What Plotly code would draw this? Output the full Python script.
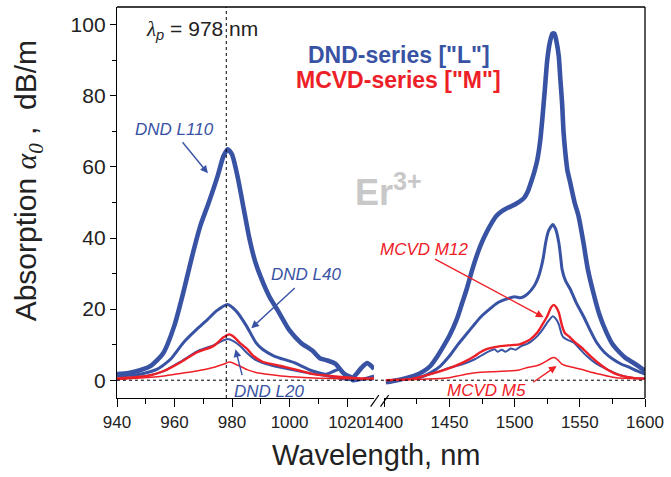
import plotly.graph_objects as go

# ---------------- data ----------------
# left segment (940-1030 nm)
L110_l_nm = [940, 944, 948, 952, 956, 960, 963, 966, 969, 972, 975, 977, 978.5, 980, 982, 984, 986, 988, 990, 993, 996, 1000, 1004, 1008, 1010.5, 1013, 1016, 1019, 1022, 1025, 1027, 1029.4]
L110_l = [1.7, 2.0, 2.8, 4.2, 7.5, 15.5, 24.5, 34.5, 43.5, 50.2, 57.5, 63, 65, 63.5, 57, 48.5, 40, 33.5, 29, 23.5, 19.5, 14, 10.5, 8.3, 6.2, 5.6, 4.6, 1.8, 0.8, 3.5, 4.8, 3.2]

L40_l_nm = [940, 948, 954, 958.6, 963, 967.7, 971, 974.6, 978.4, 981.4, 985, 988.3, 990.6, 994.6, 1001.4, 1008, 1012.8, 1017.4, 1022, 1025.4, 1029.4]
L40_l = [1.2, 1.7, 3.1, 5.9, 10.5, 14.3, 16.7, 19.5, 21.3, 19.5, 15.3, 10.6, 8.7, 6.8, 5.0, 2.6, 1.7, 3.1, -0.2, 0.3, 1.2]

L20_l_nm = [940, 950, 956, 962, 968, 973.5, 976.5, 978.4, 980.5, 983, 985.4, 988, 992, 997, 1003, 1008, 1015, 1020, 1025, 1029.4]
L20_l = [0.5, 1.2, 2.5, 5.2, 8.2, 9.8, 11.0, 11.6, 11.0, 9.5, 7.5, 5.8, 4.5, 3.5, 2.5, 1.8, 0.8, 0.1, 0.2, 0.3]

M12_l_nm = [940, 950.6, 956.3, 962, 967.7, 973.5, 976.9, 979, 980.5, 982.6, 985.4, 987.2, 990.6, 997, 1003, 1008.3, 1014, 1019.7, 1025, 1029.4]
M12_l = [0.5, 1.2, 2.6, 5.0, 7.8, 9.6, 12.0, 12.9, 12.3, 10.6, 8.7, 7.0, 5.2, 4.0, 2.8, 1.7, 1.2, 0.8, 0.5, 0.6]

M5_l_nm = [940, 948, 956.3, 962, 967.7, 973.5, 977, 979, 980.5, 982.6, 985.4, 988.3, 993, 997, 1005, 1015, 1029.4]
M5_l = [0.2, 0.6, 1.2, 1.9, 2.6, 3.6, 4.5, 5.1, 4.8, 4.0, 2.9, 2.2, 1.6, 1.2, 0.8, 0.5, 0.4]

# right segment (1400-1600 nm)
L110_r_nm = [1401.3, 1410, 1422.7, 1430, 1435.4, 1440, 1445.5, 1450, 1455.6, 1460, 1463.2, 1467, 1470.8, 1474.5, 1478.3, 1482, 1485.9, 1490, 1494.7, 1500, 1504, 1507.3, 1510, 1512.4, 1515, 1517.4, 1519.5, 1521.2, 1523, 1525, 1527, 1529, 1530.5, 1532, 1533.9, 1535, 1536.4, 1537.5, 1538.9, 1540.5, 1542.7, 1546, 1549, 1552.8, 1556, 1560.4, 1565, 1570.5, 1575, 1580.6, 1585, 1590.7, 1596, 1600]
L110_r = [-0.6, 0.0, 1.2, 2.5, 4.0, 6.3, 9.6, 12.5, 17.1, 22, 25.6, 30.5, 34.9, 38.5, 41.5, 44, 46.2, 47.5, 48.5, 49.4, 50.3, 51.3, 53, 55.5, 58.5, 62, 67, 73.3, 81, 90, 95, 97.5, 97.5, 95.5, 91, 85, 78, 70, 64, 59, 55.5, 50, 46.2, 38.7, 31.5, 24.6, 18.5, 13.4, 10.2, 7.8, 6.3, 5.0, 3.7, 2.6]

L40_r_nm = [1401.3, 1415, 1427.8, 1435, 1443, 1450, 1455.6, 1462, 1468.2, 1474, 1480.8, 1487, 1493.5, 1499.8, 1504.8, 1510, 1515, 1518, 1520, 1522, 1523.8, 1526, 1529.3, 1531.5, 1533.9, 1535.2, 1536.4, 1539, 1542.7, 1547, 1552.8, 1558, 1562.9, 1569, 1575.5, 1582, 1588.2, 1594, 1600]
L40_r = [-0.3, 0.3, 0.8, 2.0, 4.0, 6.8, 9.6, 12.5, 15.3, 17.8, 20, 21.8, 22.8, 23.5, 23.2, 24.3, 26.5, 28.8, 31.2, 34.5, 38.7, 42, 43.8, 42.5, 38.7, 35, 31.2, 28, 25.6, 22, 18, 14, 10.6, 7.8, 5.9, 4.5, 3.6, 2.6, 1.7]

L20_r_nm = [1401.3, 1410, 1420, 1430, 1440, 1450, 1460, 1469.5, 1477, 1484.6, 1487, 1490, 1493, 1497, 1501, 1505, 1510, 1513, 1517.4, 1521, 1525, 1529.3, 1531.5, 1533.9, 1536, 1537.6, 1541, 1545.2, 1550, 1555.3, 1562, 1570.5, 1577, 1583, 1590, 1600]
L20_r = [-0.8, 0.0, 0.5, 1.2, 2.2, 3.5, 4.5, 5.9, 7.5, 8.7, 8.0, 8.6, 8.0, 8.9, 8.6, 9.6, 10.3, 11.0, 12.4, 14.0, 16.2, 18.0, 17.3, 15.7, 13.0, 12.0, 11.3, 10.6, 8.8, 6.8, 4.8, 3.1, 2.0, 1.2, 0.7, 0.4]

M12_r_nm = [1401.3, 1420, 1435.4, 1448, 1460.6, 1469.5, 1473.3, 1479, 1485.9, 1495, 1503.6, 1507.3, 1512, 1517.4, 1521, 1525, 1528, 1530, 1532, 1533.9, 1536.4, 1538.5, 1541.4, 1546, 1552.8, 1559, 1565.4, 1572, 1578, 1585, 1592, 1600]
M12_r = [0.0, 0.3, 1.7, 3.1, 5.0, 6.8, 7.8, 8.8, 9.4, 9.8, 10.1, 10.6, 11.5, 13.4, 15.5, 18.0, 20.5, 21.2, 20.5, 19.0, 15.3, 13.3, 12.4, 10.8, 8.7, 6.5, 4.5, 2.8, 1.7, 1.0, 0.6, 0.5]

M5_r_nm = [1401.3, 1430, 1448, 1460, 1470, 1490, 1503.6, 1510, 1516, 1520, 1525, 1528, 1530, 1532, 1534.5, 1536.4, 1540, 1545.2, 1552, 1558, 1565.4, 1572, 1578, 1590, 1600]
M5_r = [0.0, 0.3, 0.6, 1.5, 2.1, 2.5, 2.9, 3.6, 4.0, 4.5, 5.5, 6.2, 6.4, 6.1, 5.2, 4.5, 4.0, 3.6, 3.0, 2.3, 1.7, 1.1, 0.7, 0.5, 0.4]

left_ticks = [940, 960, 980, 1000, 1020]
right_ticks = [1400, 1450, 1500, 1550, 1600]
y_ticks = [0, 20, 40, 60, 80, 100]
pump_nm = 978

BLUE = "#3953a4"
RED = "#ee2027"
FONT = "Arial, Liberation Sans, Helvetica, sans-serif"

# ---------------- figure ----------------
W, H = 671, 477
ML, MR, MT, MB = 117, 18, 7, 79
PW, PH = W - ML - MR, H - MT - MB


def P(px, py):
    return (px - ML) / PW, (H - MB - py) / PH


LEFT_END = P(378, 0)[0]
RIGHT_START = P(388.3, 0)[0]

fig = go.Figure()

series = [
    ("L110", L110_l_nm, L110_l, L110_r_nm, L110_r, BLUE, 4.6),
    ("L40", L40_l_nm, L40_l, L40_r_nm, L40_r, BLUE, 3.0),
    ("L20", L20_l_nm, L20_l, L20_r_nm, L20_r, BLUE, 2.0),
    ("M12", M12_l_nm, M12_l, M12_r_nm, M12_r, RED, 2.4),
    ("M5", M5_l_nm, M5_l, M5_r_nm, M5_r, RED, 1.5),
]
for name, xl, yl, xr, yr, col, w in series:
    fig.add_trace(go.Scatter(x=xl, y=yl, mode="lines", name=name, xaxis="x", yaxis="y",
                             line=dict(color=col, width=w, shape="spline", smoothing=0.6),
                             showlegend=False))
    fig.add_trace(go.Scatter(x=xr, y=yr, mode="lines", name=name, xaxis="x2", yaxis="y",
                             line=dict(color=col, width=w, shape="spline", smoothing=0.6),
                             showlegend=False))

axis_common = dict(showgrid=False, zeroline=False, showline=True, linecolor="black", linewidth=1.3,
                   ticks="outside", tickcolor="black", tickwidth=1.3, ticklen=8,
                   ticklabeloverflow="allow",
                   tickfont=dict(family=FONT, size=17, color="#222"))

fig.update_layout(
    width=W, height=H,
    margin=dict(l=ML, r=MR, t=MT, b=MB),
    paper_bgcolor="white", plot_bgcolor="white",
    xaxis=dict(domain=[0, LEFT_END], range=[940, 1029.4], tickvals=left_ticks, anchor="y",
               minor=dict(ticks="outside", ticklen=5, tickcolor="black", tickwidth=1.3, dtick=10, tick0=940),
               **axis_common),
    xaxis2=dict(domain=[RIGHT_START, 1], range=[1400, 1600], tickvals=right_ticks, anchor="y",
                minor=dict(ticks="outside", ticklen=5, tickcolor="black", tickwidth=1.3, dtick=25, tick0=1400),
                **axis_common),
    yaxis=dict(range=[-5, 105], tickvals=y_ticks, anchor="x", showgrid=False, zeroline=False,
               showline=True, linecolor="black", linewidth=1.3, ticks="outside", tickcolor="black",
               tickwidth=1.3, ticklen=6, ticklabeloverflow="allow",
               minor=dict(ticks="outside", ticklen=4, tickcolor="black", tickwidth=1.3, dtick=10, tick0=0),
               tickfont=dict(family=FONT, size=21, color="#222")),
)

# frame top & right
fig.add_shape(type="line", xref="paper", yref="paper", x0=0, x1=1, y0=1, y1=1,
              line=dict(color="black", width=1.3))
fig.add_shape(type="line", xref="paper", yref="paper", x0=1, x1=1, y0=0, y1=1,
              line=dict(color="black", width=1.3))
# dotted guides
fig.add_shape(type="line", xref="x", yref="paper", x0=pump_nm, x1=pump_nm, y0=0, y1=1,
              line=dict(color="black", width=1, dash="dot"))
fig.add_shape(type="line", xref="paper", yref="y", x0=0, x1=1, y0=0, y1=0,
              line=dict(color="black", width=1, dash="dot"))
# axis break marks
for bx in (374.5, 384.5):
    x0, y0 = P(bx, 406.7)
    x1, y1 = P(bx + 8.3, 395)
    fig.add_shape(type="line", xref="paper", yref="paper", x0=x0, y0=y0, x1=x1, y1=y1,
                  line=dict(color="black", width=1.2))


def txt(px, py, text, size, color, bold=False, italic=False, angle=0, family=FONT):
    x, y = P(px, py)
    t = text
    if bold:
        t = "<b>" + t + "</b>"
    if italic:
        t = "<i>" + t + "</i>"
    fig.add_annotation(x=x, y=y, xref="paper", yref="paper", text=t, showarrow=False,
                       xanchor="center", yanchor="middle", textangle=angle,
                       font=dict(family=family, size=size, color=color))


def arrow(tx, ty, hx, hy, color):
    x, y = P(hx, hy)
    fig.add_annotation(x=x, y=y, xref="paper", yref="paper", text="", showarrow=True,
                       ax=tx - hx, ay=ty - hy, axref="pixel", ayref="pixel",
                       arrowhead=2, arrowsize=1.1, arrowwidth=1.4, arrowcolor=color)


SERIF = "font-family:'Liberation Serif','Times New Roman',serif"
txt(203, 30, "<span style=\"" + SERIF + "\"><i>λ</i></span><i><sub>p</sub></i> = 978 nm", 21, "#222")
txt(403, 55, 'DND-series ["L"]', 23, BLUE, bold=True)
txt(403, 80, 'MCVD-series ["M"]', 23, RED, bold=True)
txt(393, 190, "Er<sup>3+</sup>", 36, "#c8c8c8", bold=True)

txt(175, 129, "DND L110", 17, BLUE, italic=True)
arrow(182.7, 140.7, 209.3, 173.3, BLUE)
txt(309, 274, "DND L40", 17, BLUE, italic=True)
arrow(298.3, 286.7, 253.3, 328.3, BLUE)
txt(271, 391, "DND L20", 17, BLUE, italic=True)
arrow(244.3, 376.7, 237.3, 349.3, BLUE)
txt(429, 250, "MCVD M12", 17, RED, italic=True)
arrow(440, 258.3, 550, 317.3, RED)
txt(492, 390, "MCVD M5", 17, RED, italic=True)
arrow(538.3, 383.3, 563.3, 366, RED)

# axis titles
txt(380, 455, "Wavelength, nm", 29, "#222")
txt(27, 181, "Absorption <span style=\"" + SERIF + "\"><i>α<sub>0</sub></i></span> ,  dB/m", 30, "#222", angle=-90)

fig.write_html("out.html", config={"displayModeBar": False},
               post_script="document.body.style.margin='0';document.body.style.padding='0';")
